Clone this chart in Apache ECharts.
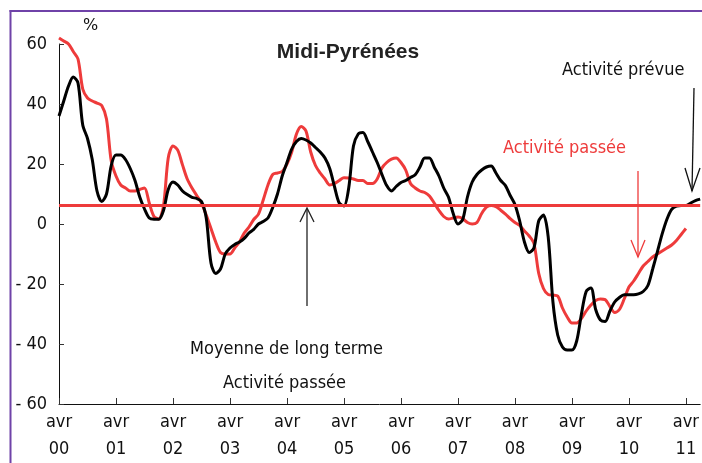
<!DOCTYPE html>
<html>
<head>
<meta charset="utf-8">
<title>Midi-Pyrénées</title>
<script src="https://cdn.jsdelivr.net/npm/echarts@6/dist/echarts.min.js"></script>
<style>
    html, body {margin: 0; padding: 0; background: #fff; overflow: hidden;}
    #chart {width: 702px; height: 463px;}
</style>
</head>
<body>
<div id="chart"></div>
<script>
// mois : d'avril 2000 à juillet 2011
var monthNames = ['avr', 'mai', 'juin', 'juil', 'août', 'sept', 'oct', 'nov', 'déc', 'janv', 'févr', 'mars'];
var startYear = 2000;
var monthCount = 136;
var yTicks = [-60, -40, -20, 0, 20, 40, 60];
var longTermMean = 6.4;

// Activité passée (rouge)
var pastActivity = [
    62, 61, 60, 57.5, 55, 45, 42, 41, 40.3, 39.5, 35, 21,
    16, 13, 12, 11, 11, 11.5, 12, 7, 2.5, 1.7, 6, 22,
    26, 24.6, 19.7, 15, 12, 9.5, 7, 3, -1.5, -6, -9.5, -10,
    -10, -8, -6, -3, -1, 1.5, 3.3, 8, 13, 16.5, 17, 17.5,
    20, 24, 30, 32.5, 31, 24, 19.5, 17, 15, 13, 13.5, 14.5,
    15.4, 15.3, 15, 14.5, 14.5, 13.5, 13.5, 15, 18.7, 20.5, 21.6, 22,
    20.5, 18, 13.5, 12, 11, 10.5, 9.3, 7, 4.5, 2.5, 1.7, 2,
    2.3, 1.8, 0.5, 0, 0.5, 3.5, 5.6, 6.2, 5.8, 4.6, 3.3, 1.8,
    0.5, -0.5, -2.3, -4, -6.5, -16.4, -21.5, -23.5, -23.7, -24, -28, -31,
    -33, -33, -31.5, -29, -27, -25.5, -25, -25.2, -27.5, -29.5, -28.5, -25,
    -21, -19, -16.5, -14, -12.5, -11, -10, -9, -8, -7, -5.5, -3.5,
    -1.5
];
// Activité prévue (noir)
var expectedActivity = [
    36, 41, 46, 49, 47, 33, 28.5, 21.5, 11, 7.5, 10, 19.5,
    23, 23, 21.5, 18.5, 14.5, 9, 5, 2, 1.6, 1.6, 4.5, 11.5,
    14, 13, 11, 9.8, 8.9, 8.5, 7.5, 2, -13, -16.5, -15, -10,
    -8, -6.8, -6, -4.8, -3, -1.8, 0, 0.8, 2, 5.5, 10, 16,
    20.5, 25, 27.5, 28.5, 28, 27, 25.5, 24, 22, 18.5, 12.5, 7,
    6, 12, 26, 30, 30.5, 27.5, 24, 20.5, 16.5, 12.8, 11, 12.5,
    13.8, 14.5, 15.5, 16.4, 19, 22, 22, 19, 16, 12, 9, 3.5,
    0, 1.5, 9, 14, 16.5, 18, 19, 19.3, 17, 14.5, 12.8, 9.5,
    6.5, 1, -6, -9.5, -8, 1, 3, -4.3, -26, -37, -41, -42,
    -42, -39, -30, -22.5, -21.3, -28.5, -32, -32.5, -29, -26, -24.5, -23.6,
    -23.6, -23.6, -23.3, -22.5, -20.5, -15, -9.2, -3.3, 1.6, 4.9, 6, 6.2,
    6.2, 7, 7.8, 8.3
];

var categories = [];
for (var i = 0; i < monthCount; i++) {
    var yy = startYear + Math.floor(i / 12);
    categories.push(monthNames[i % 12] + ' ' + String(yy).slice(2));
}

var RED = '#ee3b3b';
var PURPLE = '#6f42a8';
var FONT = 'DejaVu Sans Condensed';

var chart = echarts.init(document.getElementById('chart'));
var option = {
    animation: false,
    backgroundColor: '#fff',
    grid: {left: 59, right: 0, top: 44, bottom: 53},
    xAxis: {
        type: 'category',
        boundaryGap: false,
        data: categories,
        axisLine: {onZero: false, lineStyle: {color: '#111', width: 1}},
        axisTick: {
            inside: true,
            length: 6,
            lineStyle: {color: '#333'},
            interval: function (idx) { return idx % 12 === 0; }
        },
        axisLabel: {
            interval: function (idx) { return idx % 12 === 0; },
            formatter: function (v) { return v.replace(' ', '\n'); },
            fontFamily: FONT,
            fontSize: 18,
            lineHeight: 27,
            margin: 5,
            color: '#111'
        },
        splitLine: {show: false}
    },
    yAxis: {
        type: 'value',
        min: yTicks[0],
        max: yTicks[yTicks.length - 1],
        interval: 20,
        axisLine: {show: true, lineStyle: {color: '#111', width: 1}},
        axisTick: {show: true, inside: true, length: 5, lineStyle: {color: '#333'}},
        axisLabel: {
            formatter: function (v) { return v < 0 ? '- ' + (-v) : String(v); },
            fontFamily: FONT,
            fontSize: 18,
            margin: 12,
            color: '#111'
        },
        splitLine: {show: false}
    },
    series: [
        {
            name: 'Activité passée',
            type: 'line',
            data: pastActivity,
            smooth: 0.3,
            clip: false,
            symbol: 'none',
            lineStyle: {color: RED, width: 3},
            markLine: {
                silent: true,
                symbol: ['none', 'none'],
                label: {show: false},
                lineStyle: {color: RED, width: 3, type: 'solid'},
                data: [{yAxis: longTermMean}]
            }
        },
        {
            name: 'Activité prévue',
            type: 'line',
            data: expectedActivity,
            smooth: 0.3,
            clip: false,
            symbol: 'none',
            lineStyle: {color: '#000', width: 3}
        }
    ],
    graphic: [
        // cadre violet (haut et gauche)
        {type: 'line', shape: {x1: 9.5, y1: 11, x2: 702, y2: 11}, style: {stroke: PURPLE, lineWidth: 2}, silent: true},
        {type: 'line', shape: {x1: 10.5, y1: 10, x2: 10.5, y2: 463}, style: {stroke: PURPLE, lineWidth: 2}, silent: true},
        {type: 'text', x: 348, y: 52, style: {text: 'Midi-Pyrénées', fontFamily: 'Liberation Sans', fontWeight: 'bold', fontSize: 21, fill: '#222', textAlign: 'center', textVerticalAlign: 'middle'}},
        {type: 'text', x: 83, y: 18, style: {text: '%', fontFamily: 'DejaVu Sans', fontSize: 16, fill: '#111'}},
        {type: 'text', x: 562, y: 70, style: {text: 'Activité prévue', fontFamily: FONT, fontSize: 18, fill: '#111', textVerticalAlign: 'middle'}},
        {type: 'text', x: 503, y: 148, style: {text: 'Activité passée', fontFamily: FONT, fontSize: 18, fill: RED, textVerticalAlign: 'middle'}},
        {type: 'text', x: 190, y: 349, style: {text: 'Moyenne de long terme', fontFamily: FONT, fontSize: 18, fill: '#111', textVerticalAlign: 'middle'}},
        {type: 'text', x: 223, y: 383, style: {text: 'Activité passée', fontFamily: FONT, fontSize: 18, fill: '#111', textVerticalAlign: 'middle'}},
        // flèches
        {type: 'line', shape: {x1: 307, y1: 306, x2: 307, y2: 209}, style: {stroke: '#222', lineWidth: 1.3}},
        {type: 'polyline', shape: {points: [[300, 222], [307, 208], [314, 222]]}, style: {stroke: '#222', lineWidth: 1.3, fill: null}},
        {type: 'line', shape: {x1: 694, y1: 88, x2: 692, y2: 191}, style: {stroke: '#111', lineWidth: 1.3}},
        {type: 'polyline', shape: {points: [[685, 168], [692, 191], [700, 168]]}, style: {stroke: '#111', lineWidth: 1.3, fill: null}},
        {type: 'line', shape: {x1: 638, y1: 171, x2: 638, y2: 257}, style: {stroke: RED, lineWidth: 1.3}},
        {type: 'polyline', shape: {points: [[631, 240], [638, 257], [645, 240]]}, style: {stroke: RED, lineWidth: 1.3, fill: null}}
    ]
};
chart.setOption(option);
</script>
</body>
</html>
